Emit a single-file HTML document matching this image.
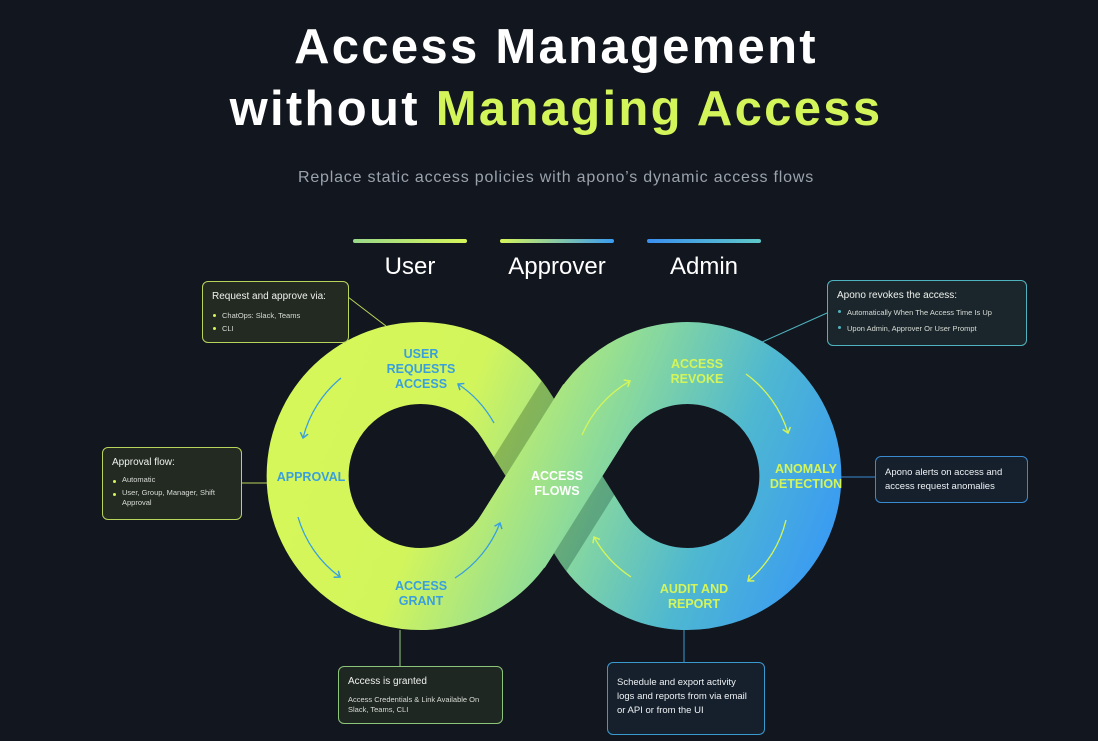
<!DOCTYPE html>
<html><head><meta charset="utf-8"><style>
html,body{margin:0;padding:0;background:#12161e;}
body{width:1098px;height:741px;position:relative;overflow:hidden;font-family:"Liberation Sans",sans-serif;}
.box{position:absolute;border-radius:6px;box-sizing:border-box;color:#e8ece8;}
.box h4{margin:0;font-size:10px;font-weight:normal;color:#f0f2ee;}
.box ul{margin:7px 0 0 0;padding:0 0 0 10px;font-size:7.5px;line-height:13px;color:#d8dcd6;}
.box li{list-style:none;position:relative;}
.box li:before{content:"";position:absolute;left:-9px;top:5px;width:3px;height:3px;border-radius:50%;background:var(--dot);}
</style></head><body>
<svg width="1098" height="741" style="position:absolute;left:0;top:0">
<defs>
<linearGradient id="g" gradientUnits="userSpaceOnUse" x1="330" y1="380" x2="830" y2="580">
<stop offset="0" stop-color="#d6f75a"/><stop offset="0.25" stop-color="#d2f55c"/>
<stop offset="0.5" stop-color="#8fdc98"/><stop offset="0.75" stop-color="#4fb8d0"/>
<stop offset="1" stop-color="#3898f6"/></linearGradient>
<linearGradient id="l1" x1="0" x2="1"><stop offset="0" stop-color="#9ad98a"/><stop offset="1" stop-color="#d6f55a"/></linearGradient>
<linearGradient id="l2" x1="0" x2="1"><stop offset="0" stop-color="#d6f55a"/><stop offset="1" stop-color="#3a9cf0"/></linearGradient>
<linearGradient id="l3" x1="0" x2="1"><stop offset="0" stop-color="#3a8ff0"/><stop offset="1" stop-color="#5ec8c8"/></linearGradient>
<marker id="ab" markerWidth="10" markerHeight="10" refX="6" refY="5" orient="auto" markerUnits="userSpaceOnUse"><path d="M1,1 L6,5 L1,9" fill="none" stroke="#3aa0dc" stroke-width="1.5"/></marker>
<marker id="ay" markerWidth="10" markerHeight="10" refX="6" refY="5" orient="auto" markerUnits="userSpaceOnUse"><path d="M1,1 L6,5 L1,9" fill="none" stroke="#d4f55a" stroke-width="1.5"/></marker>
</defs>
<text x="556" y="63" text-anchor="middle" fill="#fff" font-size="49" font-weight="bold" letter-spacing="2.3">Access Management</text>
<text x="556" y="125" text-anchor="middle" fill="#fff" font-size="49" font-weight="bold" letter-spacing="2.3">without <tspan fill="#d4f55a">Managing Access</tspan></text>
<text x="556" y="182" text-anchor="middle" fill="#9aa2ac" font-size="16" letter-spacing="0.8">Replace static access policies with apono’s dynamic access flows</text>
<rect x="353" y="239" width="114" height="4" rx="2" fill="url(#l1)"/>
<rect x="500" y="239" width="114" height="4" rx="2" fill="url(#l2)"/>
<rect x="647" y="239" width="114" height="4" rx="2" fill="url(#l3)"/>
<text x="410" y="274" text-anchor="middle" fill="#fff" font-size="24">User</text>
<text x="557" y="274" text-anchor="middle" fill="#fff" font-size="24">Approver</text>
<text x="704" y="274" text-anchor="middle" fill="#fff" font-size="24">Admin</text>

<g stroke-width="1">
<line x1="348" y1="297" x2="386" y2="326" stroke="#b8d45a"/>
<line x1="241" y1="483" x2="270" y2="483" stroke="#b8d45a"/>
<line x1="400" y1="630" x2="400" y2="666" stroke="#9acc80"/>
<line x1="827" y1="313" x2="760" y2="343" stroke="#4fb3bf"/>
<line x1="830" y1="477" x2="875" y2="477" stroke="#3a8ad0"/>
<line x1="684" y1="630" x2="684" y2="662" stroke="#3a9ad0"/>
</g>

<path d="M591,417 A113,113 0 1 1 591,535 L517,417 A113,113 0 1 0 517,535 Z" fill="none" stroke="url(#g)" stroke-width="82" stroke-linejoin="round"/>
<line x1="510" y1="546" x2="598" y2="406" stroke="url(#g)" stroke-width="82"/>
<polygon points="505.6,476 554,398.9 542.1,380.1 493.7,457.1" fill="#1a3a10" fill-opacity="0.3"/>
<polygon points="602.4,476 554,553.1 565.9,571.9 614.3,494.9" fill="#0a3a30" fill-opacity="0.3"/>

<g fill="none" stroke="#3aa0dc" stroke-width="1.3">
<path d="M341,378 A113,113 0 0 0 303,438" marker-end="url(#ab)"/>
<path d="M298,517 A113,113 0 0 0 340,577" marker-end="url(#ab)"/>
<path d="M455,578 A113,113 0 0 0 500,523" marker-end="url(#ab)"/>
<path d="M494,423 A113,113 0 0 0 458,384" marker-end="url(#ab)"/>
</g>
<g fill="none" stroke="#d4f55a" stroke-width="1.3">
<path d="M582,435 A113,113 0 0 1 630,381" marker-end="url(#ay)"/>
<path d="M746,374 A113,113 0 0 1 788,433" marker-end="url(#ay)"/>
<path d="M786,520 A113,113 0 0 1 748,581" marker-end="url(#ay)"/>
<path d="M631,577 A113,113 0 0 1 594,537" marker-end="url(#ay)"/>
</g>

<g font-size="12.5" font-weight="bold" text-anchor="middle" fill="#3aa0dc">
<text x="421" y="358">USER</text><text x="421" y="373">REQUESTS</text><text x="421" y="388">ACCESS</text>
<text x="311" y="481">APPROVAL</text>
<text x="421" y="590">ACCESS</text><text x="421" y="605">GRANT</text>
</g>
<g font-size="12.5" font-weight="bold" text-anchor="middle" fill="#fff">
<text x="557" y="480">ACCESS</text><text x="557" y="495">FLOWS</text>
</g>
<g font-size="12.5" font-weight="bold" text-anchor="middle" fill="#d4f55a">
<text x="697" y="368">ACCESS</text><text x="697" y="383">REVOKE</text>
<text x="806" y="473">ANOMALY</text><text x="806" y="488">DETECTION</text>
<text x="694" y="593">AUDIT AND</text><text x="694" y="608">REPORT</text>
</g>
</svg>

<div class="box" style="--dot:#d4f55a;left:202px;top:281px;width:147px;height:62px;border:1px solid #b8d45a;background:#222a22;padding:9px 9px;">
<h4>Request and approve via:</h4><ul><li>ChatOps: Slack, Teams</li><li>CLI</li></ul></div>

<div class="box" style="--dot:#d4f55a;left:102px;top:447px;width:140px;height:73px;border:1px solid #b8d45a;background:#222a22;padding:9px 9px;">
<h4>Approval flow:</h4><ul style="line-height:10px"><li style="margin-bottom:3px">Automatic</li><li>User, Group, Manager, Shift Approval</li></ul></div>

<div class="box" style="left:338px;top:666px;width:165px;height:58px;border:1px solid #8cc47a;background:#1f2722;padding:9px 9px;">
<h4>Access is granted</h4><div style="font-size:7.5px;line-height:10px;margin-top:8px;color:#d8dcd6">Access Credentials &amp; Link Available On Slack, Teams, CLI</div></div>

<div class="box" style="--dot:#4fb3bf;left:827px;top:280px;width:200px;height:66px;border:1px solid #4fb3bf;background:#1a262b;padding:9px 9px;">
<h4>Apono revokes the access:</h4><ul style="line-height:16px;margin-top:4px"><li>Automatically When The Access Time Is Up</li><li>Upon Admin, Approver Or User Prompt</li></ul></div>

<div class="box" style="left:875px;top:456px;width:153px;height:47px;border:1px solid #3a8ad0;background:#15202c;padding:9px 9px;font-size:9.5px;line-height:14px;color:#eef1f4">Apono alerts on access and access request anomalies</div>

<div class="box" style="left:607px;top:662px;width:158px;height:73px;border:1px solid #3a9ad0;background:#15202c;padding:13px 9px;font-size:9.5px;line-height:14px;color:#eef1f4">Schedule and export activity logs and reports from via email or API or from the UI</div>
</body></html>
